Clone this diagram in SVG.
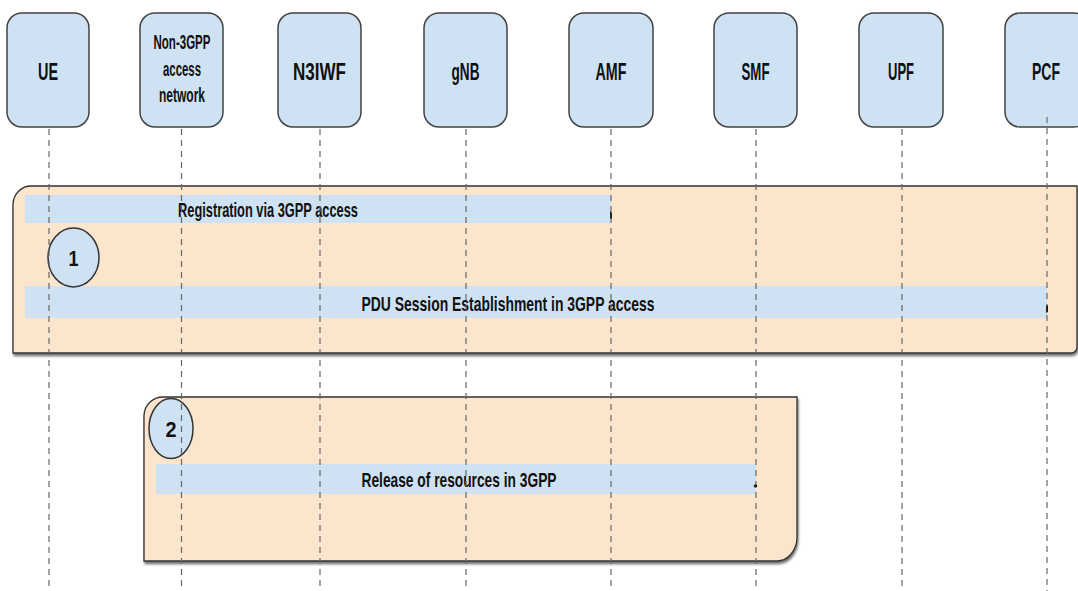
<svg xmlns="http://www.w3.org/2000/svg" width="1078" height="591" viewBox="0 0 1078 591">
<defs>
<style>
.node{fill:#cfe2f3;stroke:#434343;stroke-width:1.5}
.lbl{font-family:"Liberation Sans",Arial,sans-serif;font-weight:bold;fill:#111;text-anchor:middle}
.grp{fill:#fce5cd;stroke:#333;stroke-width:1.3}
.bar{fill:#cfe2f3}
.life{stroke:#666;stroke-width:1.2;stroke-dasharray:6 5;fill:none}
.num{fill:#cfe2f3;stroke:#333;stroke-width:1.5}
.tick{fill:#222}
</style>
<filter id="sh" x="-5%" y="-5%" width="110%" height="120%">
<feDropShadow dx="1" dy="2.5" stdDeviation="1.2" flood-color="#000" flood-opacity="0.55"/>
</filter>
</defs>
<rect width="1078" height="591" fill="#fff"/>

<g id="group1">
<path class="grp" filter="url(#sh)" d="M13,205 A18,19 0 0 1 31,186 L1077,186 L1077,347 A6,6 0 0 1 1071,353 L13,353 Z"/>
<rect class="bar" x="25" y="195" width="586" height="28"/>
<text class="lbl" x="268" y="217" font-size="20.5" textLength="180" lengthAdjust="spacingAndGlyphs">Registration via 3GPP access</text>
<rect class="bar" x="25" y="286" width="1022" height="32"/>
<text class="lbl" x="508" y="311" font-size="20.5" textLength="293" lengthAdjust="spacingAndGlyphs">PDU Session Establishment in 3GPP access</text>
<ellipse class="num" cx="73.5" cy="257.5" rx="25.5" ry="29.5"/>
<text class="lbl" x="73.5" y="265.5" font-size="22" textLength="10" lengthAdjust="spacingAndGlyphs">1</text>
</g>

<g id="group2">
<path class="grp" filter="url(#sh)" d="M144,416 A19,19 0 0 1 163,397 L797,397 L797,537 A20,24 0 0 1 777,561 L144,561 Z"/>
<rect class="bar" x="156" y="464" width="600" height="30"/>
<text class="lbl" x="459" y="487" font-size="20.5" textLength="195" lengthAdjust="spacingAndGlyphs">Release of resources in 3GPP</text>
<ellipse class="num" cx="171" cy="428.5" rx="22" ry="30"/>
<text class="lbl" x="171" y="436.5" font-size="22" textLength="11" lengthAdjust="spacingAndGlyphs">2</text>
</g>

<g id="node-UE">
<rect class="node" x="7" y="13" width="82" height="114" rx="15"/>
<text class="lbl" x="48" y="80" font-size="23" textLength="20" lengthAdjust="spacingAndGlyphs">UE</text>
</g>
<g id="node-N3GPP">
<rect class="node" x="140" y="13" width="83" height="114" rx="15"/>
<text class="lbl" x="182" y="49" font-size="19.5" textLength="57" lengthAdjust="spacingAndGlyphs">Non-3GPP</text>
<text class="lbl" x="182" y="76" font-size="19.5" textLength="38" lengthAdjust="spacingAndGlyphs">access</text>
<text class="lbl" x="182" y="102" font-size="19.5" textLength="46" lengthAdjust="spacingAndGlyphs">network</text>
</g>
<g id="node-N3IWF">
<rect class="node" x="278" y="13" width="83" height="114" rx="15"/>
<text class="lbl" x="319.5" y="80" font-size="23" textLength="53" lengthAdjust="spacingAndGlyphs">N3IWF</text>
</g>
<g id="node-gNB">
<rect class="node" x="424" y="13" width="83" height="114" rx="15"/>
<text class="lbl" x="465.5" y="80" font-size="23" textLength="28" lengthAdjust="spacingAndGlyphs">gNB</text>
</g>
<g id="node-AMF">
<rect class="node" x="569" y="13" width="84" height="114" rx="15"/>
<text class="lbl" x="611" y="80" font-size="23" textLength="31" lengthAdjust="spacingAndGlyphs">AMF</text>
</g>
<g id="node-SMF">
<rect class="node" x="714" y="13" width="83" height="114" rx="15"/>
<text class="lbl" x="755.5" y="80" font-size="23" textLength="28" lengthAdjust="spacingAndGlyphs">SMF</text>
</g>
<g id="node-UPF">
<rect class="node" x="859" y="13" width="84" height="114" rx="15"/>
<text class="lbl" x="901" y="80" font-size="23" textLength="26" lengthAdjust="spacingAndGlyphs">UPF</text>
</g>
<g id="node-PCF">
<rect class="node" x="1005" y="13" width="84" height="114" rx="15"/>
<text class="lbl" x="1046" y="80" font-size="23" textLength="28" lengthAdjust="spacingAndGlyphs">PCF</text>
</g>

<g id="connectors">
<line class="life" x1="49" y1="129" x2="49" y2="591"/>
<line class="life" x1="181.5" y1="129" x2="181.5" y2="591"/>
<line class="life" x1="320" y1="129" x2="320" y2="591"/>
<line class="life" x1="466" y1="129" x2="466" y2="591"/>
<line class="life" x1="611" y1="129" x2="611" y2="591"/>
<line class="life" x1="756" y1="129" x2="756" y2="591"/>
<line class="life" x1="902" y1="129" x2="902" y2="591"/>
<line class="life" x1="1047" y1="117" x2="1047" y2="591"/>
<path class="tick" d="M610,211 L612,213 L612,219 L610,218 Z"/>
<path class="tick" d="M1046,306 L1048,305 L1048,312 L1046,313 Z"/>
<circle class="tick" cx="755.5" cy="486" r="1.8"/>
</g>
</svg>
